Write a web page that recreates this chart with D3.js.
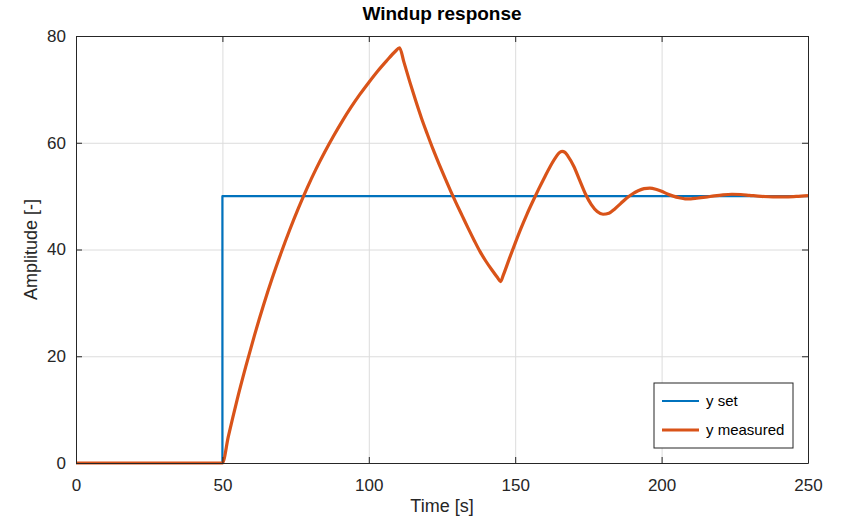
<!DOCTYPE html>
<html>
<head>
<meta charset="utf-8">
<script src="https://cdn.jsdelivr.net/npm/d3@7"></script>
<style>
  body { margin: 0; background: #fff; }
  svg { font-family: "Liberation Sans", Arial, sans-serif; }
</style>
</head>
<body>
<div id="vis"></div>
<script>
// constants for the visualization
const FRAME_WIDTH = 863;
const FRAME_HEIGHT = 520;
const MARGINS = {left: 76, right: 55, top: 36, bottom: 57};
const VIS_WIDTH = FRAME_WIDTH - (MARGINS.left + MARGINS.right);
const VIS_HEIGHT = FRAME_HEIGHT - (MARGINS.top + MARGINS.bottom);

// tick values
const X_TICKS = [0, 50, 100, 150, 200, 250];
const Y_TICKS = [0, 20, 40, 60, 80];

// set point (step at t = 50)
const SET_T = [0, 50, 50, 250];
const SET_Y = [0, 0, 50, 50];

// measured output
const MEAS_T = [0, 50, 52, 55, 58, 61, 64, 67, 70, 73, 76, 79, 82, 85, 88, 91, 94, 97, 100,
  103, 106, 109, 110.5, 112, 114, 116, 118, 120, 122, 124, 126, 128, 130, 132, 134, 136, 138,
  140, 142, 144, 145, 146, 148, 150, 152, 154, 156, 158, 160, 162, 164, 165, 166, 167, 168,
  170, 172, 174, 176, 178, 180, 182, 184, 186, 188, 190, 192, 194, 196, 198, 200, 202, 204,
  206, 208, 210, 212, 215, 218, 221, 224, 227, 230, 234, 238, 242, 246, 250];
const MEAS_Y = [0, 0, 4.9, 11.8, 18.1, 24.0, 29.5, 34.6, 39.3, 43.7, 47.8, 51.6, 55.1, 58.3,
  61.3, 64.1, 66.7, 69.1, 71.3, 73.4, 75.3, 77.1, 77.8, 75.1, 71.4, 67.9, 64.6, 61.6, 58.7,
  56.0, 53.4, 50.9, 48.5, 46.2, 43.9, 41.7, 39.6, 37.8, 36.2, 34.7, 34.0, 35.3, 38.3, 41.2,
  44.0, 46.6, 49.0, 51.3, 53.5, 55.6, 57.4, 58.1, 58.4, 58.2, 57.5, 55.6, 53.0, 50.4, 48.4,
  47.1, 46.6, 46.8, 47.6, 48.6, 49.6, 50.4, 51.0, 51.4, 51.5, 51.3, 50.9, 50.4, 50.0, 49.7,
  49.5, 49.5, 49.6, 49.8, 50.05, 50.25, 50.35, 50.3, 50.15, 49.95, 49.85, 49.85, 49.95, 50.1];

const SERIES = [
  {name: "y set", t: SET_T, y: SET_Y, color: "#0072BD", width: 2.2, curve: d3.curveLinear},
  {name: "y measured", t: MEAS_T, y: MEAS_Y, color: "#D95319", width: 3.2, curve: d3.curveMonotoneX}
];

const FRAME = d3.select("#vis")
  .append("svg")
  .attr("width", FRAME_WIDTH)
  .attr("height", FRAME_HEIGHT);

const X_SCALE = d3.scaleLinear().domain([0, 250]).range([0, VIS_WIDTH]);
const Y_SCALE = d3.scaleLinear().domain([0, 80]).range([VIS_HEIGHT, 0]);

const PLOT = FRAME.append("g")
  .attr("transform", "translate(" + MARGINS.left + "," + MARGINS.top + ")");

// grid lines
PLOT.append("g")
  .call(d3.axisBottom(X_SCALE).tickValues(X_TICKS).tickSize(VIS_HEIGHT).tickFormat(""))
  .call(g => g.select(".domain").remove())
  .selectAll("line").attr("stroke", "#dcdcdc");
PLOT.append("g")
  .call(d3.axisLeft(Y_SCALE).tickValues(Y_TICKS).tickSize(-VIS_WIDTH).tickFormat(""))
  .call(g => g.select(".domain").remove())
  .selectAll("line").attr("stroke", "#dcdcdc");

// lines
SERIES.forEach((s) => {
  const pts = s.t.map((t, i) => [t, s.y[i]]);
  const line = d3.line()
    .x((d) => X_SCALE(d[0]))
    .y((d) => Y_SCALE(d[1]))
    .curve(s.curve);
  PLOT.append("path")
    .datum(pts)
    .attr("fill", "none")
    .attr("stroke", s.color)
    .attr("stroke-width", s.width)
    .attr("stroke-linejoin", "round")
    .attr("d", line);
});

// axes with inward ticks on all four sides
const AXIS_COLOR = "#262626";
function styleAxis(g) {
  g.select(".domain").attr("stroke", AXIS_COLOR);
  g.selectAll("line").attr("stroke", AXIS_COLOR);
  g.selectAll("text").attr("fill", "#262626").attr("font-size", "17px")
    .attr("font-family", "'Liberation Sans', Arial, sans-serif");
}
PLOT.append("g")
  .attr("transform", "translate(0," + VIS_HEIGHT + ")")
  .call(d3.axisBottom(X_SCALE).tickValues(X_TICKS).tickSizeInner(-6).tickSizeOuter(0).tickPadding(16))
  .call(styleAxis);
PLOT.append("g")
  .call(d3.axisTop(X_SCALE).tickValues(X_TICKS).tickSizeInner(-6).tickSizeOuter(0).tickFormat(""))
  .call(styleAxis);
PLOT.append("g")
  .call(d3.axisLeft(Y_SCALE).tickValues(Y_TICKS).tickSizeInner(-6).tickSizeOuter(0).tickPadding(10))
  .call(styleAxis);
PLOT.append("g")
  .attr("transform", "translate(" + VIS_WIDTH + ",0)")
  .call(d3.axisRight(Y_SCALE).tickValues(Y_TICKS).tickSizeInner(-6).tickSizeOuter(0).tickFormat(""))
  .call(styleAxis);

// title and axis labels
FRAME.append("text")
  .attr("x", MARGINS.left + VIS_WIDTH / 2)
  .attr("y", 20)
  .attr("text-anchor", "middle")
  .attr("font-size", "19px")
  .attr("font-weight", "bold")
  .attr("fill", "#000")
  .text("Windup response");
FRAME.append("text")
  .attr("x", MARGINS.left + VIS_WIDTH / 2)
  .attr("y", 512)
  .attr("text-anchor", "middle")
  .attr("font-size", "18px")
  .attr("fill", "#262626")
  .text("Time [s]");
FRAME.append("text")
  .attr("transform", "translate(37," + (MARGINS.top + VIS_HEIGHT / 2) + ") rotate(-90)")
  .attr("text-anchor", "middle")
  .attr("font-size", "18px")
  .attr("fill", "#262626")
  .text("Amplitude [-]");

// legend
const LEGEND = FRAME.append("g").attr("transform", "translate(654,383)");
LEGEND.append("rect")
  .attr("width", 139).attr("height", 65)
  .attr("fill", "#fff").attr("stroke", AXIS_COLOR).attr("stroke-width", 1);
SERIES.forEach((s, i) => {
  const cy = 18 + i * 29;
  LEGEND.append("line")
    .attr("x1", 8).attr("x2", 45).attr("y1", cy).attr("y2", cy)
    .attr("stroke", s.color).attr("stroke-width", s.width);
  LEGEND.append("text")
    .attr("x", 52).attr("y", cy + 5)
    .attr("font-size", "15px").attr("fill", "#000")
    .text(s.name);
});
</script>
</body>
</html>
